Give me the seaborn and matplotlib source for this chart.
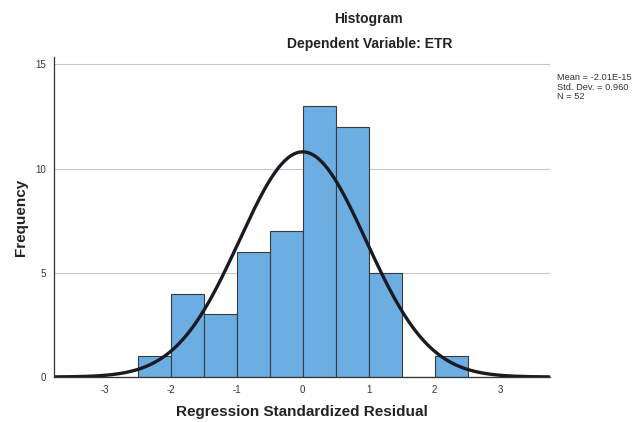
import numpy as np
import pandas as pd
import matplotlib
matplotlib.use("Agg")
import matplotlib.pyplot as plt
import seaborn as sns

# histogram counts (bin width 0.5)
bin_edges = [-2.5, -2.0, -1.5, -1.0, -0.5, 0.0, 0.5, 1.0, 1.5, 2.0, 2.5]
counts = [1, 4, 3, 6, 7, 13, 12, 5, 0, 1]
mean_val = -2.01e-15
std_val = 0.960
n_obs = 52

centers = [(a + b) / 2 for a, b in zip(bin_edges[:-1], bin_edges[1:])]
df = pd.DataFrame({"resid": centers, "count": counts})

sns.set_style("white")
plt.rcParams['font.family'] = ['Liberation Sans', 'DejaVu Sans']
plt.rcParams['axes.unicode_minus'] = False

fig = plt.figure(figsize=(6.32, 4.22), dpi=100)
ax = fig.add_axes([0.0854, 0.1066, 0.785, 0.758])

ax.yaxis.grid(True, color="#c8c8c8", linewidth=0.8)
ax.set_axisbelow(True)

sns.histplot(data=df, x="resid", weights="count", bins=bin_edges,
             color="#6cade2", edgecolor="#3a3a3a", linewidth=0.8, alpha=1, ax=ax)

# fitted normal curve
xs = np.linspace(-3.77, 3.75, 300)
ys = n_obs * 0.5 / (std_val * np.sqrt(2 * np.pi)) * np.exp(-0.5 * ((xs - mean_val) / std_val) ** 2)
sns.lineplot(x=xs, y=ys, color="#1a1a22", linewidth=2.4, ax=ax)

ax.set_xlim(-3.77, 3.75)
ax.set_ylim(0, 15.35)
ax.set_xticks([-3, -2, -1, 0, 1, 2, 3])
ax.set_yticks([0, 5, 10, 15])
ax.tick_params(axis="both", length=0, labelsize=7, colors="#333333", pad=6)
for s in ["top", "right"]:
    ax.spines[s].set_visible(False)
for s in ["left", "bottom"]:
    ax.spines[s].set_color("#333333")
    ax.spines[s].set_linewidth(0.9)

ax.set_xlabel("Regression Standardized Residual", fontsize=11, fontweight="bold",
              color="#222222", labelpad=7)
ax.set_ylabel("Frequency", fontsize=11, fontweight="bold", color="#222222", labelpad=5)

fig.text(0.583, 0.955, "Histogram", ha="center", va="center", fontsize=10,
         fontweight="bold", color="#222222")
fig.text(0.585, 0.895, "Dependent Variable: ETR", ha="center", va="center", fontsize=10,
         fontweight="bold", color="#222222")
fig.text(0.881, 0.826, "Mean = -2.01E-15\nStd. Dev. = 0.960\nN = 52", ha="left", va="top",
         fontsize=6.7, color="#333333", linespacing=1.05)

fig.savefig("out.png", dpi=100, facecolor="white")
